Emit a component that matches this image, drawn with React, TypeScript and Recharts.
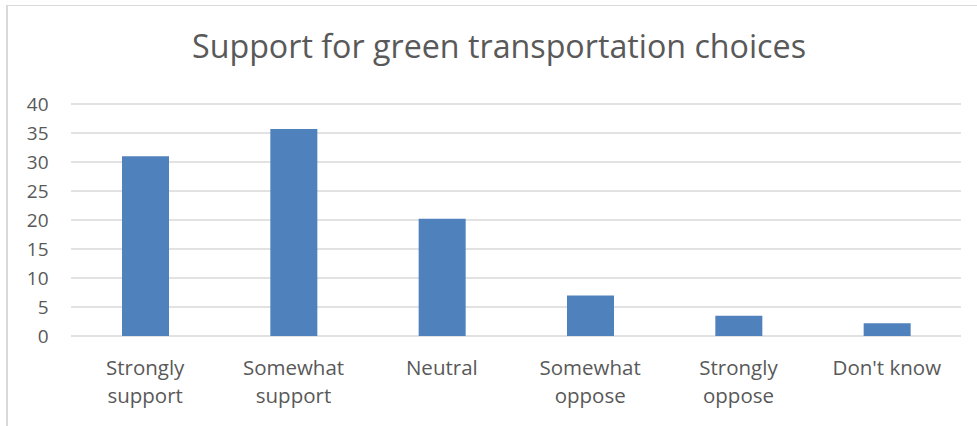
import { Bar, BarChart, CartesianGrid, XAxis, YAxis } from 'recharts'

const categories = [
  'Strongly\nsupport',
  'Somewhat\nsupport',
  'Neutral',
  'Somewhat\noppose',
  'Strongly\noppose',
  "Don't know",
]
const support = [31, 35.7, 20.2, 7.0, 3.5, 2.2]
const yTicks = [0, 5, 10, 15, 20, 25, 30, 35, 40]
const title = 'Support for green transportation choices'

const data = categories.map((name, i) => ({ name, value: support[i] }))

const FONT = '"Open Sans", sans-serif'
const TEXT = '#595959'
const GRID = '#d9d9d9'

function CategoryTick(props: any) {
  const { x, y, payload } = props
  const lines = String(payload.value).split('\n')
  return (
    <g>
      {lines.map((line: string, i: number) => (
        <text
          key={i}
          x={x}
          y={y + 39 + i * 28}
          textAnchor="middle"
          fill={TEXT}
          fontSize={20.5}
          fontFamily={FONT}
        >
          {line}
        </text>
      ))}
    </g>
  )
}

export default function App() {
  return (
    <div
      style={{
        position: 'absolute',
        left: 0,
        top: 0,
        width: 977,
        height: 426,
        background: '#fff',
        overflow: 'hidden',
      }}
    >
      {/* chart frame, runs past the right and bottom edge */}
      <div
        style={{
          position: 'absolute',
          left: 6,
          top: 5,
          width: 1000,
          height: 500,
          borderLeft: `2px solid ${GRID}`,
          borderTop: `1px solid ${GRID}`,
        }}
      />
      <svg width={977} height={426} style={{ position: 'absolute', left: 0, top: 0 }}>
        <text
          x={192}
          y={58}
          fill={TEXT}
          fontSize={32}
          fontFamily={FONT}
          textLength={614}
          lengthAdjust="spacingAndGlyphs"
        >
          {title}
        </text>
      </svg>
      <div style={{ position: 'absolute', left: 0, top: 0 }}>
        <BarChart
          width={977}
          height={426}
          data={data}
          margin={{ top: 104, right: 16, bottom: 0, left: 0 }}
        >
          <CartesianGrid vertical={false} stroke={GRID} strokeWidth={1.5} />
          <XAxis
            dataKey="name"
            height={90}
            axisLine={false}
            tickLine={false}
            tickSize={0}
            tickMargin={0}
            interval={0}
            tick={<CategoryTick />}
          />
          <YAxis
            width={71}
            domain={[0, 40]}
            ticks={yTicks}
            axisLine={false}
            tickLine={false}
            tickSize={0}
            tickMargin={22.5}
            tick={{ fill: TEXT, fontSize: 19, fontFamily: FONT }}
          />
          <Bar dataKey="value" fill="#4f81bd" barSize={47} isAnimationActive={false} />
        </BarChart>
      </div>
    </div>
  )
}
